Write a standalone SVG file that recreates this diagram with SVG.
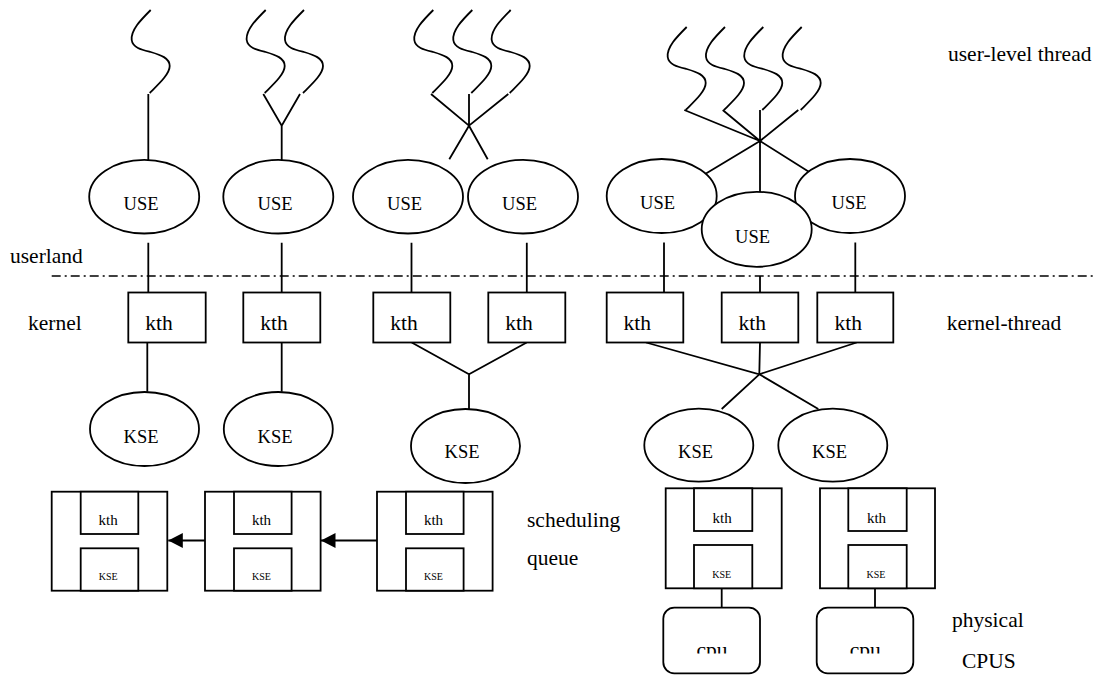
<svg xmlns="http://www.w3.org/2000/svg" width="1096" height="675" viewBox="0 0 1096 675" font-family="'Liberation Serif', 'Times New Roman', serif">
<style>
.s{fill:none;stroke:#000;stroke-width:1.8}
.n{fill:#fff;stroke:#000;stroke-width:1.8}
text{font-family:'Liberation Serif','Times New Roman',serif;fill:#000}
.lbl{font-size:21.5px}
.el{font-size:18.5px;text-anchor:middle}
.kt{font-size:21.5px}
.sm{font-size:15px;text-anchor:middle}
.xs{font-size:10px;text-anchor:middle}
</style>
<defs>
<path id="wave" d="M0,0 C-10,10 -20,20 -19,30 C-18,38 -8,40 0,42 C10,45 19,48 19,56 C19,64 8,74 -1,83" fill="none" stroke="#000" stroke-width="1.8"/>
<marker id="ah" markerUnits="userSpaceOnUse" markerWidth="16" markerHeight="16" viewBox="0 0 15 16" refX="14.5" refY="8" orient="auto"><path d="M0,0.5 L14.5,8 L0,15.5 Z" fill="#000"/></marker>
<clipPath id="cpuclip1"><rect x="665" y="610" width="94" height="43.5"/></clipPath>
<clipPath id="cpuclip2"><rect x="818" y="610" width="94" height="43.5"/></clipPath>
</defs>

<g id="threads">
<use href="#wave" x="150.7" y="10"/>
<use href="#wave" x="265.7" y="10"/>
<use href="#wave" x="304" y="10"/>
<use href="#wave" x="433.3" y="10"/>
<use href="#wave" x="472.3" y="10"/>
<use href="#wave" x="510.7" y="10"/>
<use href="#wave" x="686.7" y="27"/>
<use href="#wave" x="725" y="27"/>
<use href="#wave" x="763.3" y="27"/>
<use href="#wave" x="801.7" y="27"/>
</g>

<g id="connectors" class="s">
<path d="M148.3,94 V160"/>
<path d="M263.3,94 L281.7,125.7 L300,94 M281.7,125.7 V160"/>
<path d="M431,94 L469,125.7 L508.3,94 M469,94 V125.7 M469,125.7 L449.3,159.3 M469,125.7 L487.7,159.3"/>
<path d="M684.3,110 L760,141 M722.7,110 L760,141 M760,110 V192 M798.3,110 L760,141 M760,141 L706,173.5 M760,141 L810,172.5"/>
<path d="M148.3,242.7 V292.5 M281.7,242.7 V292.5 M411.5,242.7 V292.5 M526.8,242.7 V292.5 M664,242.5 V292.5 M760,276 V292.5 M855.3,242.5 V292.5"/>
<path d="M147.3,342.5 V391.7 M281.7,342.5 V391.7"/>
<path d="M411.7,342.5 L469,374.3 L526.7,342.5 M469,374.3 V409"/>
<path d="M646,342.5 L759.3,374.3 L856.7,342.5 M760,342.5 L759.3,374.3 M759.3,374.3 L721.7,409 M759.3,374.3 L818.3,409"/>
<path d="M721.7,588.3 V607.7 M875,588.3 V607.7"/>
<line x1="205" y1="540.5" x2="168.3" y2="540.5" marker-end="url(#ah)"/>
<line x1="377" y1="540.5" x2="321" y2="540.5" marker-end="url(#ah)"/>
</g>

<path id="boundary" d="M51.7,276 H1094" fill="none" stroke="#000" stroke-width="1.6" stroke-dasharray="9,4,2,4"/>

<g id="use1"><ellipse class="n" cx="144.2" cy="196.7" rx="55" ry="36.8"/><text class="el" x="141" y="209.5">USE</text></g>
<g id="use2"><ellipse class="n" cx="278.3" cy="196.7" rx="55" ry="36.8"/><text class="el" x="275" y="209.5">USE</text></g>
<g id="use3"><ellipse class="n" cx="408" cy="196.7" rx="55" ry="36.8"/><text class="el" x="404.5" y="209.5">USE</text></g>
<g id="use4"><ellipse class="n" cx="523" cy="196.7" rx="55" ry="36.8"/><text class="el" x="519.5" y="209.5">USE</text></g>
<g id="use5"><ellipse class="n" cx="661.7" cy="196" rx="55" ry="37"/><text class="el" x="657.5" y="209.3">USE</text></g>
<g id="use7"><ellipse class="n" cx="850" cy="196" rx="55" ry="37"/><text class="el" x="849" y="209.3">USE</text></g>
<g id="use6"><ellipse class="n" cx="756.7" cy="229.3" rx="55" ry="37.5"/><text class="el" x="752.5" y="242.7">USE</text></g>

<g id="kth1"><rect class="n" x="128.3" y="292.5" width="77.4" height="50"/><text class="kt" x="145.3" y="330">kth</text></g>
<g id="kth2"><rect class="n" x="243.3" y="292.5" width="77" height="50"/><text class="kt" x="260.3" y="330">kth</text></g>
<g id="kth3"><rect class="n" x="373.3" y="292.5" width="77" height="50"/><text class="kt" x="390.3" y="330">kth</text></g>
<g id="kth4"><rect class="n" x="488.3" y="292.5" width="77" height="50"/><text class="kt" x="505.3" y="330">kth</text></g>
<g id="kth5"><rect class="n" x="606.7" y="292.5" width="76.6" height="50"/><text class="kt" x="623.5" y="330">kth</text></g>
<g id="kth6"><rect class="n" x="721.7" y="292.5" width="76.6" height="50"/><text class="kt" x="738.5" y="330">kth</text></g>
<g id="kth7"><rect class="n" x="817.3" y="292.5" width="76" height="50"/><text class="kt" x="834.5" y="330">kth</text></g>

<g id="kse1"><ellipse class="n" cx="144.5" cy="429" rx="54.5" ry="37"/><text class="el" x="141" y="442.7">KSE</text></g>
<g id="kse2"><ellipse class="n" cx="278.3" cy="429" rx="54.5" ry="37"/><text class="el" x="275" y="442.7">KSE</text></g>
<g id="kse3"><ellipse class="n" cx="465.5" cy="446" rx="54.5" ry="37"/><text class="el" x="462" y="457.7">KSE</text></g>
<g id="kse4"><ellipse class="n" cx="698.8" cy="445.2" rx="54.5" ry="36.5"/><text class="el" x="695.5" y="457.7">KSE</text></g>
<g id="kse5"><ellipse class="n" cx="832.8" cy="445.2" rx="54.5" ry="36.5"/><text class="el" x="829.5" y="457.7">KSE</text></g>

<g id="queue1" transform="translate(51.7,491.7)"><rect class="n" width="115.6" height="99"/><rect class="n" x="29" width="57.6" height="42.3"/><rect class="n" x="29" y="56.6" width="57.6" height="42.4"/><text class="sm" x="56.5" y="33.3">kth</text><text class="xs" x="56.5" y="88.3">KSE</text></g>
<g id="queue2" transform="translate(205,491.7)"><rect class="n" width="115.6" height="99"/><rect class="n" x="29" width="57.6" height="42.3"/><rect class="n" x="29" y="56.6" width="57.6" height="42.4"/><text class="sm" x="56.5" y="33.3">kth</text><text class="xs" x="56.5" y="88.3">KSE</text></g>
<g id="queue3" transform="translate(377,491.7)"><rect class="n" width="115.6" height="99"/><rect class="n" x="29" width="57.6" height="42.3"/><rect class="n" x="29" y="56.6" width="57.6" height="42.4"/><text class="sm" x="56.5" y="33.3">kth</text><text class="xs" x="56.5" y="88.3">KSE</text></g>
<g id="run1" transform="translate(665.7,488.3)"><rect class="n" width="116" height="100"/><rect class="n" x="28.3" width="58.3" height="42.7"/><rect class="n" x="28.3" y="56.7" width="58.3" height="43.3"/><text class="sm" x="56.5" y="34.4">kth</text><text class="xs" x="56" y="90">KSE</text></g>
<g id="run2" transform="translate(820,488.3)"><rect class="n" width="115" height="100"/><rect class="n" x="28.3" width="58.4" height="42.7"/><rect class="n" x="28.3" y="56.7" width="58.4" height="43.3"/><text class="sm" x="56.5" y="34.4">kth</text><text class="xs" x="56" y="90">KSE</text></g>

<g id="cpu1"><rect class="n" x="663.3" y="607.7" width="96.7" height="65.6" rx="11"/><text class="kt" x="712" y="657" text-anchor="middle" clip-path="url(#cpuclip1)">cpu</text></g>
<g id="cpu2"><rect class="n" x="816.7" y="607.7" width="96.6" height="65.6" rx="11"/><text class="kt" x="865.3" y="657" text-anchor="middle" clip-path="url(#cpuclip2)">cpu</text></g>

<g id="labels" class="lbl">
<text x="948" y="61">user-level thread</text>
<text x="10" y="263">userland</text>
<text x="28" y="330">kernel</text>
<text x="946.7" y="330">kernel-thread</text>
<text x="527" y="527">scheduling</text>
<text x="527" y="565">queue</text>
<text x="952" y="627">physical</text>
<text x="962" y="668">CPUS</text>
</g>
</svg>
